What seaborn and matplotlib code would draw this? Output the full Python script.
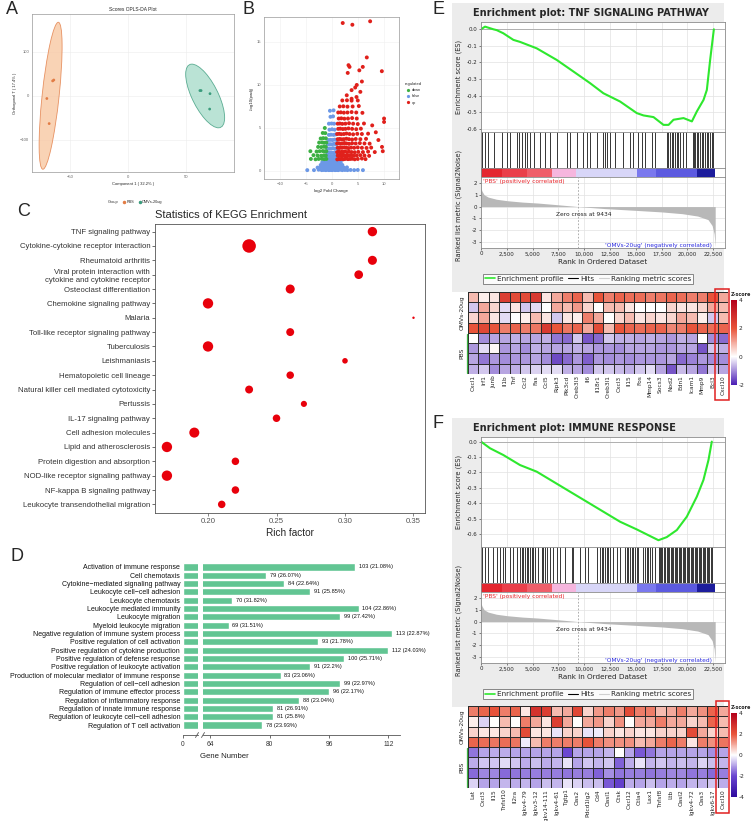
import numpy as np
import pandas as pd
import matplotlib
matplotlib.use("Agg")
import matplotlib.pyplot as plt
import seaborn as sns
from matplotlib.patches import Ellipse, Rectangle
from matplotlib.colors import LinearSegmentedColormap
from matplotlib.lines import Line2D

sns.set_theme(style="white")
plt.rcParams['font.family'] = ['Liberation Sans', 'DejaVu Sans']

# ---------------- Panel A : OPLS-DA scores ----------------
opls_group = ['PBS', 'PBS', 'PBS', 'PBS', 'OMVs-20ug', 'OMVs-20ug', 'OMVs-20ug', 'OMVs-20ug']
opls_t1 = [-65, -64, -70, -68, 62, 63, 70.7, 70.4]
opls_to = [34, 36, -6, -63, 12, 12, 5, -30]

# ---------------- Panel B : volcano ----------------
volcano_false = [
    (-4.8, 0.1), (-3.5, 0.1), (-2.6, 0.15), (-2.0, 0.1), (-1.6, 0.12), (-1.2, 0.1), (-0.9, 0.15), (-0.6, 0.1),
    (-0.3, 0.12), (0.0, 0.1), (0.3, 0.15), (0.6, 0.1), (0.9, 0.12), (1.2, 0.1), (1.6, 0.15), (2.0, 0.1),
    (2.5, 0.12), (3.0, 0.1), (3.6, 0.12), (4.3, 0.1), (5.0, 0.12), (6.0, 0.1),
    (-2.8, 0.4), (-2.2, 0.45), (-1.7, 0.4), (-1.3, 0.42), (-1.0, 0.4), (-0.7, 0.45), (-0.4, 0.4), (-0.1, 0.42),
    (0.2, 0.4), (0.5, 0.45), (0.8, 0.4), (1.1, 0.42), (1.4, 0.4), (1.8, 0.45), (2.3, 0.4), (2.9, 0.42),
    (-2.2, 0.7), (-1.7, 0.72), (-1.3, 0.7), (-1.0, 0.75), (-0.7, 0.7), (-0.4, 0.72), (-0.1, 0.7), (0.2, 0.75),
    (0.5, 0.7), (0.8, 0.72), (1.1, 0.7), (1.5, 0.75), (2.0, 0.7),
    (-1.9, 1.0), (-1.5, 1.02), (-1.1, 1.0), (-0.8, 1.05), (-0.5, 1.0), (-0.2, 1.02), (0.1, 1.0), (0.4, 1.05),
    (0.7, 1.0), (1.0, 1.02), (1.3, 1.0), (1.7, 1.05),
    (-1.6, 1.3), (-1.2, 1.32), (-0.9, 1.3), (-0.6, 1.35), (-0.3, 1.3), (0.0, 1.32), (0.3, 1.3), (0.6, 1.35), (0.9, 1.3),
    (-1.0, 1.7), (-0.8, 1.75), (-0.5, 1.7), (-0.2, 1.72), (0.1, 1.7), (0.4, 1.75), (0.8, 1.7),
    (-0.9, 2.1), (-0.6, 2.15), (-0.3, 2.1), (0.0, 2.12), (0.3, 2.1), (0.6, 2.15), (0.9, 2.1),
    (-0.9, 2.6), (-0.5, 2.62), (-0.2, 2.6), (0.2, 2.65), (0.5, 2.6), (0.9, 2.62),
    (-0.8, 3.1), (-0.4, 3.12), (0.0, 3.1), (0.4, 3.15), (0.8, 3.1),
    (-0.7, 3.6), (-0.3, 3.62), (0.1, 3.6), (0.5, 3.65), (0.9, 3.6),
    (-0.6, 4.2), (-0.2, 4.22), (0.3, 4.2), (0.7, 4.25),
    (-0.5, 4.8), (0.0, 4.85), (0.5, 4.8), (-0.6, 5.5), (-0.1, 5.52), (0.4, 5.5),
    (-0.3, 6.3), (0.2, 6.35), (-0.4, 7.0), (0.3, 7.05),
]
volcano_down = [
    (-1.1, 1.4), (-1.5, 1.38), (-2.0, 1.42), (-2.6, 1.4), (-3.2, 1.36), (-4.1, 1.4),
    (-1.2, 1.8), (-1.6, 1.82), (-2.1, 1.78), (-2.8, 1.8), (-3.6, 1.84),
    (-1.1, 2.3), (-1.4, 2.28), (-1.8, 2.32), (-2.4, 2.3), (-3.0, 2.26), (-4.2, 2.3),
    (-1.2, 2.8), (-1.6, 2.82), (-2.1, 2.78), (-2.7, 2.8),
    (-1.1, 3.3), (-1.5, 3.28), (-1.9, 3.32), (-2.5, 3.3),
    (-1.2, 3.8), (-1.7, 3.82), (-2.2, 3.78), (-1.3, 4.4), (-1.8, 4.42), (-1.4, 5.0),
]
volcano_up = [
    (1.02, 1.35), (1.3, 1.4), (1.6, 1.38), (1.9, 1.42), (2.2, 1.36), (2.5, 1.4), (2.8, 1.45), (3.1, 1.38),
    (3.5, 1.4), (3.9, 1.42), (4.4, 1.36), (5.0, 1.4), (5.8, 1.45), (6.5, 1.38),
    (1.1, 1.8), (1.4, 1.82), (1.7, 1.78), (2.0, 1.85), (2.3, 1.8), (2.6, 1.76), (2.9, 1.82), (3.3, 1.8),
    (3.7, 1.85), (4.2, 1.78), (4.8, 1.8), (5.5, 1.84), (6.3, 1.8), (7.2, 1.76),
    (1.0, 2.2), (1.3, 2.25), (1.6, 2.18), (1.9, 2.22), (2.2, 2.2), (2.5, 2.26), (2.9, 2.2), (3.3, 2.24),
    (3.8, 2.2), (4.4, 2.18), (5.1, 2.22), (6.0, 2.2), (7.0, 2.25), (8.3, 2.2),
    (1.1, 2.7), (1.4, 2.68), (1.7, 2.72), (2.0, 2.7), (2.4, 2.75), (2.8, 2.7), (3.2, 2.66), (3.7, 2.72),
    (4.3, 2.7), (5.0, 2.74), (5.8, 2.7), (6.7, 2.68), (7.6, 2.72),
    (1.0, 3.2), (1.3, 3.22), (1.6, 3.18), (2.0, 3.2), (2.4, 3.25), (2.8, 3.2), (3.3, 3.16), (3.9, 3.22),
    (4.6, 3.2), (5.4, 3.24), (6.3, 3.2), (7.3, 3.18),
    (1.1, 3.7), (1.5, 3.72), (1.9, 3.68), (2.3, 3.7), (2.8, 3.75), (3.3, 3.7), (3.9, 3.66), (4.6, 3.72),
    (5.5, 3.7), (6.6, 3.74),
    (1.0, 4.3), (1.4, 4.32), (1.8, 4.28), (2.3, 4.3), (2.8, 4.35), (3.4, 4.3), (4.1, 4.26), (4.9, 4.32),
    (5.8, 4.3), (7.0, 4.34),
    (1.2, 4.9), (1.6, 4.92), (2.1, 4.88), (2.6, 4.9), (3.2, 4.95), (3.9, 4.9), (4.7, 4.86), (5.6, 4.92),
    (1.1, 5.5), (1.5, 5.52), (2.0, 5.48), (2.6, 5.5), (3.3, 5.55), (4.1, 5.5), (5.0, 5.46), (6.2, 5.52),
    (1.3, 6.1), (1.8, 6.12), (2.4, 6.08), (3.1, 6.1), (3.9, 6.15), (4.8, 6.1),
    (1.2, 6.8), (1.7, 6.82), (2.3, 6.78), (3.0, 6.8), (3.8, 6.85), (4.7, 6.8), (5.9, 6.76),
    (1.5, 7.5), (2.2, 7.52), (3.0, 7.48), (4.0, 7.5), (5.2, 7.55),
    (2.0, 8.2), (2.9, 8.22), (3.8, 8.18), (5.0, 8.2),
    (2.86, 8.8), (3.8, 8.4), (4.75, 8.6), (5.5, 9.2), (3.8, 9.4), (4.5, 9.7), (4.8, 10.0), (5.8, 10.4),
    (3.05, 11.4), (5.3, 11.7), (5.97, 12.1), (3.2, 12.3), (3.4, 12.1), (9.67, 11.6), (6.75, 13.2),
    (2.08, 17.2), (3.95, 17.0), (7.4, 17.4), (10.1, 6.1), (10.1, 5.7), (9.7, 2.8), (9.85, 2.3),
    (8.5, 4.5), (7.8, 5.3), (9.0, 3.6),
]

# ---------------- Panel C : KEGG ----------------
kegg_terms = ['TNF signaling pathway', 'Cytokine-cytokine receptor interaction', 'Rheumatoid arthritis',
              'Viral protein interaction with\ncytokine and cytokine receptor', 'Osteoclast differentiation',
              'Chemokine signaling pathway', 'Malaria', 'Toll-like receptor signaling pathway', 'Tuberculosis',
              'Leishmaniasis', 'Hematopoietic cell lineage', 'Natural killer cell mediated cytotoxicity',
              'Pertussis', 'IL-17 signaling pathway', 'Cell adhesion molecules', 'Lipid and atherosclerosis',
              'Protein digestion and absorption', 'NOD-like receptor signaling pathway',
              'NF-kappa B signaling pathway', 'Leukocyte transendothelial migration']
kegg_rich = [0.32, 0.23, 0.32, 0.31, 0.26, 0.20, 0.35, 0.26, 0.20, 0.30, 0.26, 0.23, 0.27, 0.25, 0.19,
             0.17, 0.22, 0.17, 0.22, 0.21]
kegg_count = [15, 30, 14, 13, 14, 18, 2, 11, 18, 6, 10, 11, 7, 10, 17, 18, 10, 18, 10, 10]

# ---------------- Panel D : GO bars ----------------
go_terms = ['Activation of immune response', 'Cell chemotaxis', 'Cytokine\u2212mediated signaling pathway',
            'Leukocyte cell\u2212cell adhesion', 'Leukocyte chemotaxis', 'Leukocyte mediated immunity',
            'Leukocyte migration', 'Myeloid leukocyte migration', 'Negative regulation of immune system process',
            'Positive regulation of cell activation', 'Positive regulation of cytokine production',
            'Positive regulation of defense response', 'Positive regulation of leukocyte activation',
            'Production of molecular mediator of immune response', 'Regulation of cell\u2212cell adhesion',
            'Regulation of immune effector process', 'Regulation of inflammatory response',
            'Regulation of innate immune response', 'Regulation of leukocyte cell\u2212cell adhesion',
            'Regulation of T cell activation']
go_counts = [103, 79, 84, 91, 70, 104, 99, 69, 113, 93, 112, 100, 91, 83, 99, 96, 88, 81, 81, 78]
go_pct = ['21.08%', '26.07%', '22.64%', '25.85%', '31.82%', '22.86%', '27.42%', '31.51%', '22.87%', '21.78%',
          '24.03%', '25.71%', '22.2%', '23.06%', '22.97%', '22.17%', '23.04%', '26.91%', '25.8%', '23.93%']

# ---------------- GSEA (shared ranked list) ----------------
metric_rank = [0, 100, 300, 700, 1500, 2500, 4000, 5500, 7500, 9434, 12000, 15000, 17500, 19500, 21000,
               22000, 22400, 22600, 22700]
metric_value = [1.55, 1.3, 1.0, 0.8, 0.62, 0.5, 0.38, 0.3, 0.15, 0.0, -0.17, -0.32, -0.45, -0.6, -0.8,
                -1.1, -1.6, -2.3, -3.4]
band_edges = [0, 2000, 4500, 6850, 9200, 15100, 17000, 20900, 22700]

tnf_es_rank = [0, 390, 1200, 1520, 2160, 3140, 3780, 5400, 7340, 8960, 10570, 11860, 13480, 15100, 15750,
               16720, 17690, 18180, 18660, 19630, 20440, 20920, 21570, 21890, 22210, 22570]
tnf_es = [0.0, 0.016, 0.0, -0.005, -0.024, -0.064, -0.076, -0.115, -0.185, -0.255, -0.325, -0.386, -0.436,
          -0.506, -0.52, -0.53, -0.577, -0.577, -0.546, -0.536, -0.556, -0.496, -0.426, -0.366, -0.185, 0.0]
tnf_hits = [129, 388, 711, 1261, 2069, 2489, 2813, 3459, 3718, 3944, 4268, 4494, 4753, 5141, 5722, 6207,
            6692, 7339, 8309, 8632, 9279, 9925, 10249, 10572, 11218, 11865, 12027, 12188, 12512, 12997,
            13805, 14452, 14775, 15260, 15584, 15907, 16553, 16877, 18008, 18170, 18332, 18493, 18655,
            18817, 18978, 19140, 19301, 19625, 19883, 20530, 20660, 20789, 20918, 21080, 21241, 21403,
            21565, 21726, 21888, 22050, 22210, 22372, 22500]

imm_es_rank = [0, 873, 2165, 3780, 5400, 7015, 8630, 10250, 11865, 13480, 15100, 16390, 17200, 18000,
               18980, 19950, 20920, 21560, 22050, 22370]
imm_es = [0.0, -0.043, -0.087, -0.152, -0.195, -0.26, -0.325, -0.39, -0.455, -0.52, -0.57, -0.613, -0.64,
          -0.62, -0.574, -0.487, -0.357, -0.249, -0.119, 0.0]
imm_hits = [65, 388, 711, 1196, 1520, 1843, 2166, 2328, 2813, 3136, 3459, 3783, 3944, 4106, 4268, 4429,
            4591, 4753, 4914, 5076, 5237, 5561, 5884, 6046, 6207, 6369, 6692, 7016, 7339, 7662, 8147, 8794,
            8955, 9602, 10087, 10410, 11219, 11542, 11703, 11865, 12027, 12188, 12350, 12512, 12835, 13158,
            13482, 13967, 14128, 14290, 14452, 14613, 14775, 14937, 15098, 15260, 15745, 15907, 16068,
            16230, 16392, 16553, 16877, 17210, 17330, 17470, 17590, 17730, 17860, 17990, 18120, 18250,
            18380, 18510, 18640, 18760, 18890, 19030, 19150, 19290, 19410, 19540, 19680, 19800, 19930,
            20070, 20190, 20320, 20460, 20580, 20710, 20850, 20970, 21100, 21240, 21360, 21490, 21630,
            21750, 21880, 22020, 22140, 22270, 22400]

tnf_genes = ['Cxcl1', 'Irf1', 'Junb', 'Il1b', 'Tnf', 'Ccl2', 'Fas', 'Ccl5', 'Ripk3', 'Pik3cd', 'Creb3l3',
             'Il6', 'Il18r1', 'Creb3l1', 'Cxcl3', 'Il15', 'Fos', 'Mmp14', 'Socs3', 'Nod2', 'Edn1', 'Icam1',
             'Mmp9', 'Bcl3', 'Cxcl10']
tnf_z = [
    [0.8, 0.2, 0.3, 2.5, 2.2, 2.2, 2.6, 0.3, 1.0, 1.5, 1.8, 0.8, 2.0, 1.5, 1.8, 1.7, 1.7, 1.5, 1.6, 1.8, 1.7, 1.5, 1.5, 2.0, 1.0],
    [-0.5, 1.0, 0.5, -0.3, 0.3, -0.5, -0.3, 0.0, 1.0, 0.8, 1.2, 0.5, 0.0, 0.8, 0.8, 0.3, 0.0, 0.0, 0.0, 0.5, 0.3, 0.3, 0.5, 1.0, 0.8],
    [0.5, 1.0, 0.3, -0.3, 0.0, 0.2, 0.8, 0.3, -0.5, 0.3, 0.2, 1.5, 1.0, 0.0, 0.5, 0.8, 0.3, 0.5, 0.3, 0.5, 1.0, 0.8, 0.2, -0.5, 0.8],
    [2.0, 2.3, 2.0, 1.5, 1.8, 1.5, 1.6, 2.6, 2.0, 1.6, 1.8, 1.0, 2.2, 0.8, 2.0, 1.8, 1.7, 1.8, 1.8, 1.4, 1.5, 2.0, 1.8, 1.7, 1.8],
    [0.0, -1.0, -0.8, -0.8, -0.7, -0.8, -0.8, -0.7, -1.2, -1.3, -0.5, -1.5, -1.3, -0.5, -0.7, -0.7, -0.8, -0.7, -0.8, -0.9, -0.7, -0.8, 0.0, -1.0, -1.3],
    [-0.9, -0.3, 0.1, -0.9, -0.8, -1.0, -0.7, -0.8, -0.8, -0.8, -0.7, -0.8, -0.9, -0.9, -1.0, -0.8, -0.8, -0.8, -0.9, -0.9, -0.8, -0.8, -1.5, -0.5, -0.7],
    [-0.8, -1.2, -0.9, -1.0, -0.9, -0.9, -0.8, -1.0, -1.6, -1.3, -0.9, -1.4, -0.9, -1.0, -0.9, -1.0, -0.9, -0.9, -0.9, -0.8, -1.3, -1.1, -0.9, -1.0, -1.0],
    [-0.7, -0.5, -1.0, -0.8, -0.7, -0.5, -0.4, -0.3, -0.3, -0.7, -0.8, -1.0, -0.5, -0.5, -0.6, -0.7, -0.5, -0.3, -0.8, -1.5, -0.6, -0.8, -1.2, -0.5, -0.8],
]
imm_genes = ['Lat', 'Cxcl3', 'Il15', 'Tnfsf10', 'Il2ra', 'Igkv4-79', 'Igkv3-12', 'Igkv14-111', 'Igkv4-61',
             'Tgtp1', 'Oas2', 'Pdcd1lg2', 'Cd4', 'Oasl1', 'Ctsk', 'Cxcl12', 'Ctla4', 'Lax1', 'Tnfsf8', 'Ltb',
             'Oasl2', 'Igkv4-72', 'Oas3', 'Igkv6-17', 'Cxcl10']
imm_z = [
    [1.5, 1.8, 2.0, 1.5, 1.8, 0.3, 2.8, 2.5, 0.8, 1.0, 2.3, 0.5, 1.2, 1.5, 1.2, 2.2, 1.5, 1.5, 0.8, 1.0, 1.5, 1.0, 1.3, 1.8, 1.0],
    [0.2, -0.5, 0.0, 0.8, 0.0, 1.5, 1.0, 0.3, 2.5, 1.0, 0.0, 1.0, 1.2, 0.5, 1.3, 0.0, 1.0, 1.0, 1.5, 1.0, 1.0, 0.5, 0.8, 1.8, 0.8],
    [0.5, 0.3, 0.3, 0.5, 0.8, 2.2, 0.3, 0.3, -0.3, 0.5, 0.5, -0.3, -0.2, 0.5, 0.3, 0.5, 0.3, 0.3, 0.5, 0.5, 0.5, 2.2, 1.0, 0.5, 0.8],
    [1.8, 1.7, 1.6, 1.7, 1.6, -0.2, 0.8, 1.5, 1.5, 1.5, 1.5, 2.0, 1.5, 1.3, 1.3, 1.3, 0.8, 1.0, 1.5, 1.8, 1.5, 0.3, 1.5, 1.3, 1.6],
    [-1.5, -1.0, -0.9, -0.9, -1.0, -1.0, -1.0, -1.0, -1.0, -2.0, -1.0, -1.0, -1.0, -0.8, 0.0, -1.0, -1.8, -1.5, -1.0, -1.0, -1.0, -1.0, -1.0, -1.2, -1.0],
    [-0.9, -0.6, -0.6, -0.4, -0.6, -0.9, -0.7, -0.9, -0.8, -0.3, -1.0, -0.6, -0.8, -0.6, -1.7, -0.9, -0.3, -0.8, -0.6, -0.8, -0.7, -0.8, -0.5, -0.7, -0.8],
    [-1.6, -1.3, -1.3, -1.6, -1.5, -1.4, -1.4, -1.4, -1.4, -1.5, -1.4, -1.4, -1.7, -1.2, -1.5, -1.4, -1.4, -1.5, -1.4, -1.3, -1.3, -1.5, -1.4, -1.6, -1.4],
    [-0.5, -1.0, -1.0, -0.8, -0.9, -0.8, -1.0, -0.7, -0.8, -0.3, -0.5, -0.7, -0.7, -1.8, -2.2, -0.9, -1.0, -0.7, -1.0, -0.9, -1.0, -0.8, -0.8, -0.6, -0.9],
]

# =====================================================================
W, H = 753, 821
fig = plt.figure(figsize=(W / 100, H / 100), dpi=100)
fig.patch.set_facecolor('white')


def rect(x0, y0, x1, y1):
    return [x0 / W, 1 - y1 / H, (x1 - x0) / W, (y1 - y0) / H]


def ftext(x, y, s, **kw):
    return fig.text(x / W, 1 - y / H, s, **kw)


def fline(xs, ys, **kw):
    fig.add_artist(Line2D([x / W for x in xs], [1 - y / H for y in ys], transform=fig.transFigure, **kw))


def frect(x0, y0, x1, y1, **kw):
    fig.patches.append(Rectangle((x0 / W, 1 - y1 / H), (x1 - x0) / W, (y1 - y0) / H,
                                 transform=fig.transFigure, **kw))


for lab, x, y in [('A', 6, 1), ('B', 242, 1), ('C', 17, 203), ('D', 10, 548), ('E', 432, 1), ('F', 432, 415)]:
    ftext(x, y, lab, fontsize=13, va='top', ha='left')

# ---------------- Panel A ----------------
axA = fig.add_axes(rect(32, 14, 234, 172))
dfa = pd.DataFrame({'t1': opls_t1, 'to': opls_to, 'Group': opls_group})
colA = {'PBS': '#e27c45', 'OMVs-20ug': '#3b9c7d'}
fillA = {'PBS': '#f8c8a3', 'OMVs-20ug': '#a9dccb'}
for g in ['PBS', 'OMVs-20ug']:
    sub = dfa[dfa.Group == g]
    cov = np.cov(sub.t1, sub.to)
    vals, vecs = np.linalg.eigh(cov)
    ang = np.degrees(np.arctan2(vecs[1, 1], vecs[0, 1]))
    k = 3.6
    axA.add_patch(Ellipse((sub.t1.mean(), sub.to.mean()), 2 * k * np.sqrt(vals[1]), 2 * k * np.sqrt(vals[0]),
                          angle=ang, facecolor=fillA[g], edgecolor=colA[g], lw=0.6, alpha=0.8, zorder=2))
sns.scatterplot(data=dfa, x='t1', y='to', hue='Group', palette=colA, s=4, linewidth=0, legend=False, ax=axA, zorder=3)
axA.set_xlim(-82.8, 91.4)
axA.set_ylim(-173, 186)
axA.set_xticks([-50, 0, 50])
axA.set_yticks([-100, 0, 100])
axA.grid(True, color='#ececec', lw=0.4)
axA.tick_params(labelsize=3, length=1, pad=1, colors='#666666')
axA.set_xlabel('Component 1 ( 32.2% )', fontsize=3, labelpad=2)
axA.set_ylabel('Orthogonal T ( 17.4% )', fontsize=3, labelpad=2)
axA.set_title('Scores OPLS-DA Plot', fontsize=3.5, pad=2)
for s in axA.spines.values():
    s.set_color('#999999'); s.set_linewidth(0.5)
hA = [Line2D([], [], ls='none', label='Group'),
      Line2D([], [], ls='none', marker='o', ms=1.5, color=colA['PBS'], label='PBS'),
      Line2D([], [], ls='none', marker='o', ms=1.5, color=colA['OMVs-20ug'], label='OMVs-20ug')]
axA.legend(handles=hA, loc='center', bbox_to_anchor=(0.5, -0.19), ncol=3, fontsize=2.8, frameon=False,
           handlelength=0.8, handletextpad=0.3, columnspacing=1.0)

# ---------------- Panel B ----------------
axB = fig.add_axes(rect(264, 17, 399, 179))
dfb = pd.concat([
    pd.DataFrame(volcano_false, columns=['lfc', 'lp']).assign(regulated='false'),
    pd.DataFrame(volcano_down, columns=['lfc', 'lp']).assign(regulated='down'),
    pd.DataFrame(volcano_up, columns=['lfc', 'lp']).assign(regulated='up')], ignore_index=True)
colB = {'down': '#3cb043', 'false': '#6c98e6', 'up': '#e0201b'}
sns.scatterplot(data=dfb, x='lfc', y='lp', hue='regulated', palette=colB, s=8, linewidth=0, legend=False, ax=axB)
axB.set_xlim(-13.2, 13.0)
axB.set_ylim(-0.93, 17.9)
axB.set_xticks([-10, -5, 0, 5, 10])
axB.set_yticks([0, 5, 10, 15])
axB.grid(True, color='#f0f0f0', lw=0.4)
axB.tick_params(labelsize=3, length=1, pad=1, colors='#666666')
axB.set_xlabel('log2 Fold Change', fontsize=3.2, labelpad=2)
axB.set_ylabel('-log10(padj)', fontsize=3.2, labelpad=2)
for s in axB.spines.values():
    s.set_color('#999999'); s.set_linewidth(0.5)
hB = [Line2D([], [], ls='none', marker='o', ms=1.3, color=colB[k], label=k) for k in ['down', 'false', 'up']]
axB.legend(handles=hB, title='regulated', loc='center left', bbox_to_anchor=(1.02, 0.53), fontsize=2.8,
           title_fontsize=3, frameon=False, handlelength=0.8, handletextpad=0.4, labelspacing=0.6)

# ---------------- Panel C ----------------
axC = fig.add_axes(rect(155, 224, 425, 513))
dfc = pd.DataFrame({'term': kegg_terms, 'rich': kegg_rich, 'count': kegg_count})
sns.scatterplot(data=dfc, x='rich', y='term', size='count', sizes=(3, 95), size_norm=(2, 30),
                color='#e8000b', linewidth=0, legend=False, ax=axC)
axC.set_xlim(0.1613, 0.3584)
axC.set_ylim(len(kegg_terms) - 1 + 0.6, -0.53)
axC.set_xticks([0.20, 0.25, 0.30, 0.35])
axC.set_xticklabels(['0.20', '0.25', '0.30', '0.35'])
axC.tick_params(axis='y', labelsize=5.6, length=2, width=0.5, pad=1.5, colors='#333333')
axC.tick_params(axis='x', labelsize=5.6, length=2, width=0.5, pad=1.5, colors='#555555')
axC.tick_params(left=True, bottom=True)
axC.set_ylabel('')
axC.set_xlabel('Rich factor', fontsize=7.2, labelpad=2)
axC.set_title('Statistics of KEGG Enrichment', loc='left', fontsize=8, pad=4)
for s in axC.spines.values():
    s.set_color('#555555'); s.set_linewidth(0.6)

# ---------------- Panel D ----------------
axDl = fig.add_axes(rect(183, 562, 198, 735))
axDr = fig.add_axes(rect(203, 562, 400, 735))
barcol = '#62c593'
for ax in (axDl, axDr):
    sns.barplot(x=go_counts, y=go_terms, orient='h', color=barcol, width=0.85, ax=ax, saturation=1)
    ax.set_ylim(20.2, -0.6)
    for side in ['top', 'right', 'left']:
        ax.spines[side].set_visible(False)
    ax.spines['bottom'].set_color('#555555')
    ax.spines['bottom'].set_linewidth(0.6)
    ax.tick_params(axis='x', labelsize=4.8, length=2.5, width=0.5, pad=1.5, colors='#333333', bottom=True)
axDl.set_xlim(0, 4)
axDl.set_xticks([0])
axDl.tick_params(axis='y', labelsize=5.0, length=0, pad=2, colors='#111111')
axDr.set_xlim(62.1, 115.1)
axDr.set_xticks([64, 80, 96, 112])
axDr.set_yticks([])
for i, (c, p) in enumerate(zip(go_counts, go_pct)):
    axDr.text(c + 1.0, i, f'{c} ({p})', fontsize=4.1, va='center', ha='left', clip_on=False, color='#111111')
fline([195.5, 198.5], [737.5, 732.5], color='#555555', lw=0.6)
fline([201.5, 204.5], [737.5, 732.5], color='#555555', lw=0.6)
ftext(224, 757, 'Gene Number', fontsize=5.6, ha='center', va='center', color='#222222')

# ---------------- GSEA panels ----------------
band_colors = ['#e4262f', '#ea3f4a', '#ef5e6a', '#f6b6de', '#d8d6f8', '#7a78ee', '#5c5ae0', '#1c1c9c']
gfont = 'DejaVu Sans'


def gsea_panel(y0, title, es_rank, es_val, hits, es_top, es_bottom):
    frect(452, y0 + 3, 724, y0 + 292, facecolor='#ececec', edgecolor='none', zorder=-5)
    ftext(473, y0 + 13, title, fontsize=7.0, fontweight='bold', family=gfont, ha='left', va='center')
    xt = list(range(0, 22501, 2500))
    xlim = (0, 23650)
    ax1 = fig.add_axes(rect(481, y0 + 22, 725, y0 + 132))
    ax1.set_facecolor('white')
    ax1.axhline(0, color='#b0b0b0', lw=0.7)
    sns.lineplot(x=es_rank, y=es_val, ax=ax1, color='#2ee82e', lw=1.5, sort=False, estimator=None)
    ax1.set_xlim(*xlim)
    ax1.set_ylim(es_bottom, es_top)
    ax1.set_xticks(xt)
    ax1.set_xticklabels([])
    ax1.set_yticks([0.0, -0.1, -0.2, -0.3, -0.4, -0.5, -0.6])
    ax1.set_yticklabels(['0.0', '-0.1', '-0.2', '-0.3', '-0.4', '-0.5', '-0.6'], family=gfont)
    ax1.grid(True, color='#e2e2e2', lw=0.5)
    ax1.tick_params(labelsize=4, length=1.5, pad=1, width=0.4, left=True, bottom=False)
    ax2 = fig.add_axes(rect(481, y0 + 132, 725, y0 + 168))
    ax2.set_facecolor('white')
    ax2.vlines(hits, 0, 1, color='black', lw=0.55)
    ax2.set_xlim(*xlim)
    ax2.set_ylim(0, 1)
    ax2.set_xticks([]); ax2.set_yticks([])
    ax3 = fig.add_axes(rect(481, y0 + 168, 725, y0 + 177))
    ax3.set_facecolor('white')
    for s, e, c in zip(band_edges[:-1], band_edges[1:], band_colors):
        ax3.axvspan(s, e, color=c, lw=0)
    ax3.set_xlim(*xlim)
    ax3.set_xticks([]); ax3.set_yticks([])
    ax4 = fig.add_axes(rect(481, y0 + 177, 725, y0 + 248))
    ax4.set_facecolor('white')
    ax4.fill_between(metric_rank, metric_value, 0, color='#b8b8b8', lw=0, zorder=2)
    ax4.axvline(9434, color='#a0a0a0', lw=0.6, ls=(0, (2, 2)), zorder=3)
    ax4.set_xlim(*xlim)
    ax4.set_ylim(-3.5, 2.5)
    ax4.set_xticks(xt)
    ax4.set_xticklabels(['0', '2,500', '5,000', '7,500', '10,000', '12,500', '15,000', '17,500', '20,000',
                         '22,500'], family=gfont)
    ax4.set_yticks([-3, -2, -1, 0, 1, 2])
    ax4.set_yticklabels(['-3', '-2', '-1', '0', '1', '2'], family=gfont)
    ax4.grid(True, color='#e2e2e2', lw=0.5, zorder=0)
    ax4.set_axisbelow(True)
    ax4.tick_params(labelsize=4, length=1.5, pad=1, width=0.4, left=True, bottom=True)
    ax4.set_xlabel('Rank in Ordered Dataset', fontsize=5.2, family=gfont, labelpad=1.5)
    ax4.text(150, 2.1, "'PBS' (positively correlated)", color='#e8262c', fontsize=4.2, family=gfont,
             va='center', ha='left', zorder=4)
    ax4.text(7300, -0.7, 'Zero cross at 9434', color='#222222', fontsize=4.2, family=gfont, va='center',
             ha='left', zorder=4)
    ax4.text(22400, -3.25, "'OMVs-20ug' (negatively correlated)", color='#2a2ae0', fontsize=4.2,
             family=gfont, va='center', ha='right', zorder=4)
    for ax in (ax1, ax2, ax3, ax4):
        for s in ax.spines.values():
            s.set_color('#8a8a8a'); s.set_linewidth(0.6)
    ftext(459, y0 + 77, 'Enrichment score (ES)', fontsize=4.8, family=gfont, rotation=90, ha='center', va='center')
    ftext(459, y0 + 205, 'Ranked list metric (Signal2Noise)', fontsize=4.8, family=gfont, rotation=90,
          ha='center', va='center')
    hG = [Line2D([], [], color='#2ee82e', lw=1.2, label='Enrichment profile'),
          Line2D([], [], color='black', lw=0.8, label='Hits'),
          Line2D([], [], color='#d0d0d0', lw=0.8, label='Ranking metric scores')]
    leg = fig.legend(handles=hG, loc='center', bbox_to_anchor=(588 / W, 1 - (y0 + 279) / H), ncol=3,
                     prop={'family': gfont, 'size': 5.2}, frameon=True, fancybox=False, borderpad=0.25,
                     handlelength=1.4, handletextpad=0.3, columnspacing=0.6)
    leg.get_frame().set_edgecolor('#555555')
    leg.get_frame().set_linewidth(0.6)
    leg.get_frame().set_facecolor('white')


gsea_panel(0, 'Enrichment plot: TNF SIGNALING PATHWAY', tnf_es_rank, tnf_es, tnf_hits, 0.044, -0.62)
gsea_panel(415, 'Enrichment plot: IMMUNE RESPONSE', imm_es_rank, imm_es, imm_hits, 0.03, -0.684)

# ---------------- Heatmaps ----------------
cmapE = LinearSegmentedColormap.from_list('zE', [(0, '#4a1db5'), (1 / 3, '#ffffff'), (2 / 3, '#e8543a'),
                                                 (1, '#b3001b')])
cmapF = LinearSegmentedColormap.from_list('zF', [(0, '#2e0a9e'), (0.25, '#6a46d0'), (0.5, '#ffffff'),
                                                 (0.75, '#e8543a'), (1, '#b3001b')])


def heat(y_top, y_bot, c_top, c_bot, data, genes, cmap, vmin, vmax, cticks, box):
    axH = fig.add_axes(rect(468, y_top, 728, y_bot))
    cax = fig.add_axes(rect(731, c_top, 737, c_bot))
    sns.heatmap(np.array(data), cmap=cmap, vmin=vmin, vmax=vmax, linewidths=0.5, linecolor='#2b2b2b',
                cbar_ax=cax, xticklabels=genes, yticklabels=False, ax=axH)
    axH.set_xticklabels(genes, rotation=90, fontsize=4.2, family=gfont)
    axH.tick_params(axis='x', length=0, pad=1)
    cax.set_yticks(cticks)
    cax.set_yticklabels([str(t) for t in cticks], family=gfont)
    cax.tick_params(labelsize=4.2, length=0, pad=1)
    ftext(731, c_top - 6, 'Z-score', fontsize=3.5, family=gfont, fontweight='bold', ha='left', va='center')
    rh = (y_bot - y_top) / 8
    ftext(462, y_top + 2 * rh, 'OMVs-20ug', fontsize=4.3, family=gfont, rotation=90, ha='center', va='center')
    ftext(462, y_top + 6 * rh, 'PBS', fontsize=4.3, family=gfont, rotation=90, ha='center', va='center')
    fline([466.5, 466.5], [y_top + 4 * rh + 1, y_bot - 1], color='#3cb043', lw=0.9)
    frect(box[0], box[1], box[2], box[3], facecolor='none', edgecolor='#e02020', lw=1.1, zorder=10)


heat(292, 374, 300, 385, tnf_z, tnf_genes, cmapE, -2, 4, [-2, 0, 2, 4], (715, 289, 729, 400))
heat(706, 788, 713, 797, imm_z, imm_genes, cmapF, -4, 4, [-4, -2, 0, 2, 4], (716, 701, 729, 813))

fig.savefig('out.png', dpi=100)
